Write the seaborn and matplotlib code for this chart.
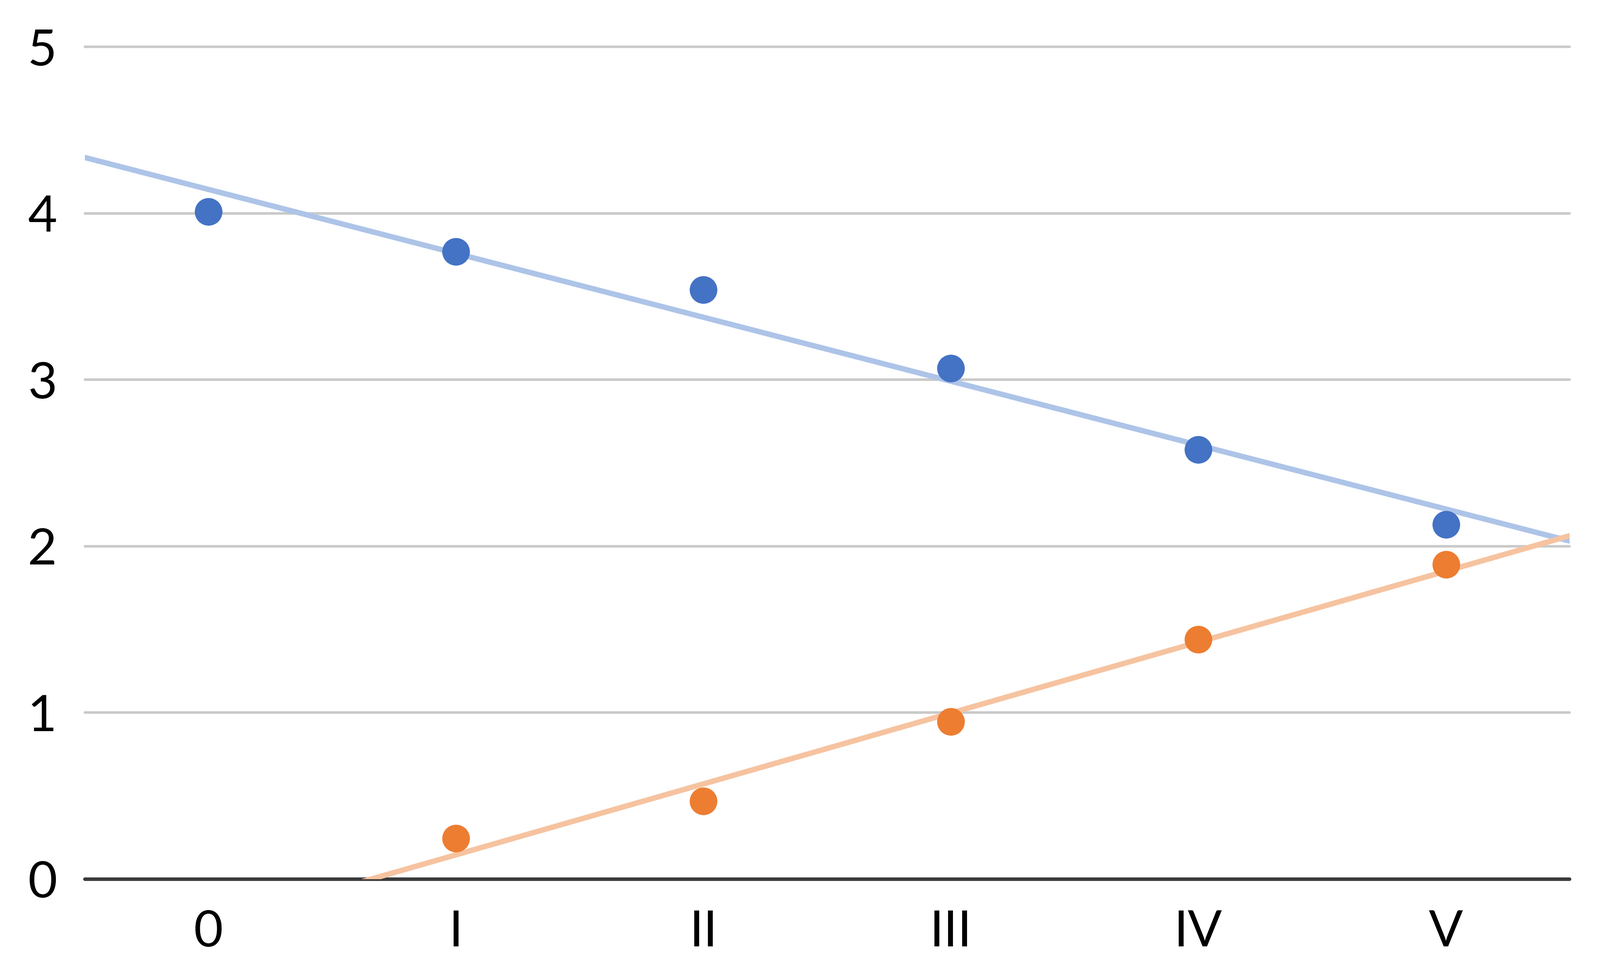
import numpy as np
import pandas as pd
import matplotlib
matplotlib.use('Agg')
import matplotlib.pyplot as plt
import seaborn as sns

# data
labels = ['0', 'I', 'II', 'III', 'IV', 'V']
x_pos = [0, 1, 2, 3, 4, 5]
blue_vals = [4.01, 3.77, 3.54, 3.07, 2.58, 2.13]
orange_vals = [np.nan, 0.245, 0.47, 0.945, 1.44, 1.89]

df = pd.DataFrame({'x': x_pos, 'blue': blue_vals, 'orange': orange_vals})

sns.set_style('white')
plt.rcParams['font.family'] = ['Lato', 'DejaVu Sans']

fig = plt.figure(figsize=(17.62, 10.68), dpi=200)
fig.set_facecolor('white')
ax = fig.add_axes([0.053, 0.0937, 0.928, 0.858])
ax.set_xlim(-0.5, 5.5)
ax.set_ylim(0, 5)

# trend lines (linear fit, extended to axis edges)
sns.regplot(data=df, x='x', y='blue', scatter=False, ci=None, truncate=False,
            ax=ax, line_kws={'color': '#ADC4E8', 'lw': 4.3, 'zorder': 2})
sns.regplot(data=df.dropna(), x='x', y='orange', scatter=False, ci=None, truncate=False,
            ax=ax, line_kws={'color': '#F6C3A0', 'lw': 4.3, 'zorder': 2})

# points
sns.scatterplot(data=df, x='x', y='blue', color='#4472C4', s=480, linewidth=0,
                ax=ax, zorder=3, clip_on=False)
sns.scatterplot(data=df.dropna(), x='x', y='orange', color='#ED7D31', s=480, linewidth=0,
                ax=ax, zorder=3, clip_on=False)

ax.set_xlim(-0.5, 5.5)
ax.set_ylim(0, 5)

# gridlines
for yv in [1, 2, 3, 4, 5]:
    ax.axhline(yv, color='#C9C9C9', lw=2.0, zorder=1, clip_on=False)
ax.axhline(0, color='#3A3A3A', lw=2.8, zorder=1, clip_on=False)

for side in ['top', 'right', 'left', 'bottom']:
    ax.spines[side].set_visible(False)

ax.set_xticks(x_pos)
ax.set_xticklabels(labels)
ax.set_yticks([0, 1, 2, 3, 4, 5])
ax.set_yticklabels(['0', '1', '2', '3', '4', '5'])
ax.tick_params(axis='both', length=0, labelsize=40, colors='black')
ax.tick_params(axis='y', pad=22)
ax.tick_params(axis='x', pad=24)
ax.set_xlabel('')
ax.set_ylabel('')

fig.savefig('out.png', dpi=200, facecolor='white')
